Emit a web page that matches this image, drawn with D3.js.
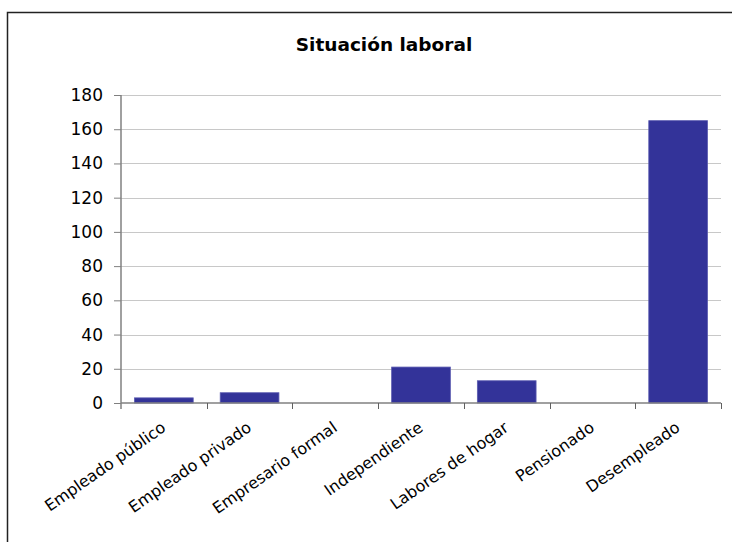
<!DOCTYPE html>
<html>
<head>
<meta charset="utf-8">
<script src="https://cdn.jsdelivr.net/npm/d3@7"></script>
<style>
  html, body { margin: 0; padding: 0; background: #fff; }
  svg { display: block; font-family: "DejaVu Sans", Verdana, sans-serif; }
</style>
</head>
<body>
<svg id="chart" width="732" height="542"></svg>
<script>
// Employment situation counts
const categories = ["Empleado público", "Empleado privado", "Empresario formal", "Independiente", "Labores de hogar", "Pensionado", "Desempleado"];
const values = [3, 6, 0, 21, 13, 0, 165];
const yTicks = [0, 20, 40, 60, 80, 100, 120, 140, 160, 180];
const title = "Situación laboral";

const svg = d3.select("#chart");
const margin = { left: 121, right: 11, top: 95, bottom: 139 };
const W = 732, H = 542;

// outer frame (left and top edges visible in the window)
svg.append("path")
  .attr("d", `M7.5,${H} V12.5 H${W}`)
  .attr("fill", "none")
  .attr("stroke", "#222")
  .attr("stroke-width", 1.5);

svg.append("text")
  .attr("x", 384).attr("y", 51)
  .attr("text-anchor", "middle")
  .attr("font-weight", "bold")
  .attr("font-size", 18.5)
  .attr("fill", "#000")
  .text(title);

const x = d3.scaleBand()
  .domain(categories)
  .range([margin.left, W - margin.right])
  .paddingInner(0.315)
  .paddingOuter(0.1575);

const y = d3.scaleLinear()
  .domain([0, 180])
  .range([H - margin.bottom, margin.top]);

// horizontal gridlines
svg.append("g")
  .selectAll("line")
  .data(yTicks.filter(d => d > 0))
  .join("line")
  .attr("x1", margin.left).attr("x2", W - margin.right)
  .attr("y1", d => Math.round(y(d)) + 0.5).attr("y2", d => Math.round(y(d)) + 0.5)
  .attr("stroke", "#c8c8c8")
  .attr("stroke-width", 1);

// bars
svg.append("g")
  .selectAll("rect")
  .data(values)
  .join("rect")
  .attr("x", (d, i) => x(categories[i]))
  .attr("width", x.bandwidth())
  .attr("y", d => y(d))
  .attr("height", d => y(0) - y(d))
  .attr("fill", "#333399")
  .attr("stroke", "#5a5ab0")
  .attr("stroke-width", 0.8);

// y axis (its line runs a little below the zero baseline)
const yAxis = svg.append("g")
  .attr("transform", `translate(${margin.left},0)`)
  .call(d3.axisLeft(y).tickValues(yTicks).tickSize(7).tickPadding(11).tickSizeOuter(0));
yAxis.select(".domain").remove();
yAxis.append("line")
  .attr("x1", 0).attr("x2", 0)
  .attr("y1", y(180)).attr("y2", y(0) + 6)
  .attr("stroke", "#808080").attr("stroke-width", 1.5);
yAxis.selectAll(".tick line").attr("stroke", "#808080");
yAxis.selectAll(".tick text")
  .attr("font-size", 17)
  .attr("font-family", "DejaVu Sans, Verdana, sans-serif")
  .attr("fill", "#000");

// x axis: tick marks on band boundaries
const xAxisG = svg.append("g").attr("transform", `translate(0,${y(0)})`);
xAxisG.append("line")
  .attr("x1", margin.left).attr("x2", W - margin.right)
  .attr("y1", 0).attr("y2", 0)
  .attr("stroke", "#808080").attr("stroke-width", 1.5);
const boundaries = d3.range(categories.length + 1).map(i => margin.left + i * (W - margin.left - margin.right) / categories.length);
xAxisG.selectAll("line.tk")
  .data(boundaries.slice(1))
  .join("line")
  .attr("class", "tk")
  .attr("x1", d => Math.round(d) + 0.5).attr("x2", d => Math.round(d) + 0.5)
  .attr("y1", 0).attr("y2", 6)
  .attr("stroke", "#606060").attr("stroke-width", 1);

// rotated category labels
xAxisG.selectAll("text")
  .data(categories)
  .join("text")
  .attr("transform", d => `translate(${x(d) + x.bandwidth() / 2 + 3},${27}) rotate(-35)`)
  .attr("text-anchor", "end")
  .attr("font-size", 16)
  .attr("fill", "#000")
  .text(d => d);
</script>
</body>
</html>
